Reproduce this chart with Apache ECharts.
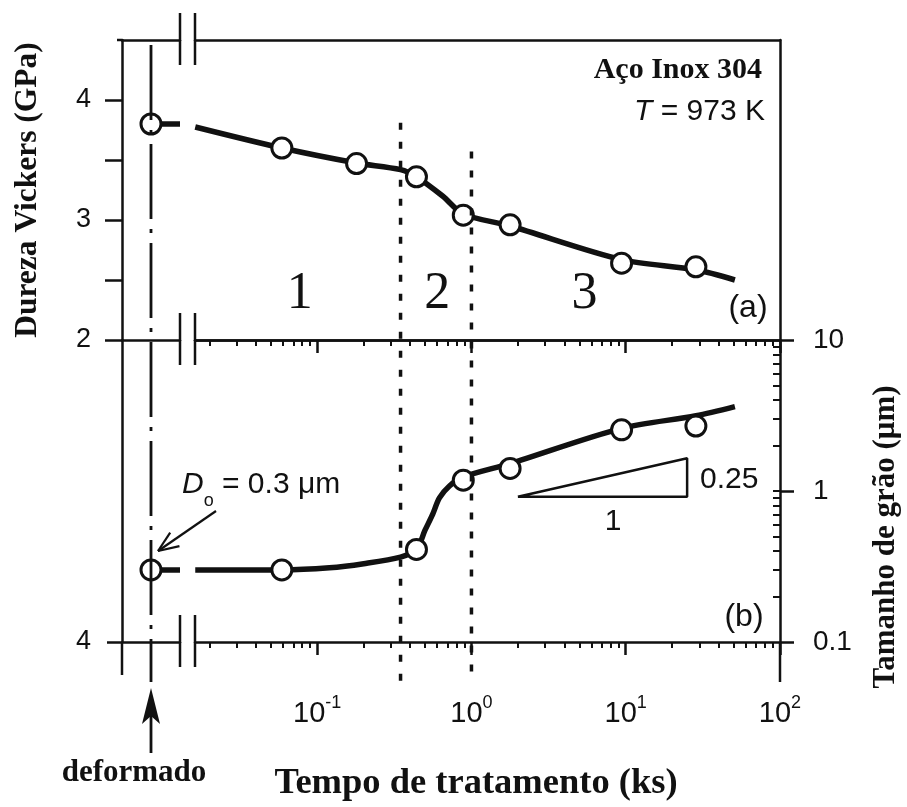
<!DOCTYPE html>
<html><head><meta charset="utf-8">
<script src="https://cdn.jsdelivr.net/npm/echarts@6/dist/echarts.min.js"></script>
<style>html,body{margin:0;padding:0;background:#fff}#c{width:907px;height:807px}</style>
</head><body><div id="c"></div>
<script>
// ---------- data ----------
// (a) Vickers hardness, GPa
const hvTime = [0.059, 0.18, 0.44, 0.885, 1.78, 9.4, 28.5];
const hvValue = [3.60, 3.47, 3.36, 3.04, 2.96, 2.64, 2.61];
const hvDeformed = 3.80;
const hvFitTime = [0.0162, 0.059, 0.18, 0.347, 0.44, 0.65, 0.885, 1.78, 9.4, 28.5, 51];
const hvFitValue = [3.775, 3.60, 3.475, 3.42, 3.36, 3.20, 3.05, 2.95, 2.67, 2.585, 2.50];
// (b) grain size, um
const gsTime = [0.059, 0.44, 0.885, 1.78, 9.4, 28.5];
const gsValue = [0.30, 0.41, 1.18, 1.41, 2.54, 2.69];
const gsDeformed = 0.30;
const gsFitTime = [0.0162, 0.059, 0.12, 0.2, 0.347, 0.44, 0.5, 0.56, 0.62, 0.72, 0.885, 1.78, 9.4, 28.5, 51];
const gsFitValue = [0.30, 0.30, 0.31, 0.33, 0.365, 0.41, 0.55, 0.70, 0.90, 1.08, 1.24, 1.52, 2.60, 3.15, 3.62];
// stage boundaries (ks) and where the dotted lines start (GPa)
const stageBounds = [0.347, 1.0];
const stageTopHv = [3.81, 3.57];
const stageLabels = ['1', '2', '3'];
// slope triangle (ks, um)
const triTime = [2, 25, 25, 2];
const triSize = [0.917, 0.917, 1.647, 0.917];
// axes
const timeMin = 0.01614, timeMax = 100;
const timeMajorTicks = [0.1, 1, 10, 100];
const timeMinorTicks = [0.02, 0.03, 0.04, 0.05, 0.06, 0.07, 0.08, 0.09,
  0.2, 0.3, 0.4, 0.5, 0.6, 0.7, 0.8, 0.9, 2, 3, 4, 5, 6, 7, 8, 9,
  20, 30, 40, 50, 60, 70, 80, 90];
const sizeMajorTicks = [0.1, 1, 10];
const sizeMinorTicks = [0.2, 0.3, 0.4, 0.5, 0.6, 0.7, 0.8, 0.9, 1, 2, 3, 4, 5, 6, 7, 8, 9];
const hvTicks = [2, 2.5, 3, 3.5, 4];
const hvTickLabels = [2, 3, 4];

// ---------- styling ----------
const INK = '#111';
const SANS = '"Liberation Sans", Arial, sans-serif';
const SERIF = '"Liberation Serif", "Times New Roman", serif';
const AX = 2.5;

const chart = echarts.init(document.getElementById('c'), null, {renderer: 'canvas'});

function plain(extra) {
  return Object.assign({
    axisLine: {show: true, onZero: false, lineStyle: {color: INK, width: AX}},
    axisTick: {show: false}, axisLabel: {show: false}, splitLine: {show: false}
  }, extra);
}
const xLabelRich = {
  b: {fontFamily: SANS, fontSize: 29, color: INK, lineHeight: 34, verticalAlign: 'bottom'},
  s: {fontFamily: SANS, fontSize: 18, color: INK, lineHeight: 18, verticalAlign: 'top'}
};

const lineStyleFit = {color: INK, width: 5.5};
const circle = {symbol: 'circle', symbolSize: 20,
  itemStyle: {color: '#fff', borderColor: INK, borderWidth: 3, opacity: 1}, z: 6};

const gridBase = {outerBoundsMode: 'none', containLabel: false, show: false};

chart.setOption({
  animation: false,
  backgroundColor: '#fff',
  grid: [
    Object.assign({left: 122, top: 40, width: 58, height: 300}, gridBase),
    Object.assign({left: 195, top: 40, width: 585, height: 300}, gridBase),
    Object.assign({left: 122, top: 340, width: 58, height: 302}, gridBase),
    Object.assign({left: 195, top: 340, width: 585, height: 302}, gridBase)
  ],
  xAxis: [
    plain({type: 'value', gridIndex: 0, min: 0, max: 1, position: 'bottom'}),
    plain({type: 'value', gridIndex: 0, min: 0, max: 1, position: 'top'}),
    plain({type: 'log', gridIndex: 1, min: timeMin, max: timeMax, position: 'bottom'}),
    plain({type: 'log', gridIndex: 1, min: timeMin, max: timeMax, position: 'top'}),
    plain({type: 'value', gridIndex: 2, min: 0, max: 1, position: 'bottom'}),
    plain({type: 'log', gridIndex: 3, min: timeMin, max: timeMax, position: 'bottom',
      axisTick: {show: true, customValues: timeMajorTicks, length: 13, lineStyle: {color: INK, width: AX}},
      axisLabel: {show: true, customValues: timeMajorTicks, margin: 52, showMinLabel: true, showMaxLabel: true,
        formatter: v => '{b|10}{s|' + Math.round(Math.log10(v)) + '}', rich: xLabelRich}}),
    plain({type: 'log', gridIndex: 3, min: timeMin, max: timeMax, position: 'bottom',
      axisLine: {show: false},
      axisTick: {show: true, customValues: timeMinorTicks, length: 6, lineStyle: {color: INK, width: 2}}}),
    plain({type: 'log', gridIndex: 3, min: timeMin, max: timeMax, position: 'top',
      axisTick: {show: true, inside: true, customValues: timeMajorTicks, length: 13, lineStyle: {color: INK, width: AX}}}),
    plain({type: 'log', gridIndex: 3, min: timeMin, max: timeMax, position: 'top',
      axisLine: {show: false},
      axisTick: {show: true, inside: true, customValues: timeMinorTicks, length: 6, lineStyle: {color: INK, width: 2}}})
  ],
  yAxis: [
    plain({type: 'value', gridIndex: 0, min: 2, max: 4.5, position: 'left',
      axisTick: {show: true, customValues: hvTicks, length: 17, lineStyle: {color: INK, width: AX}},
      axisLabel: {show: true, customValues: hvTickLabels, margin: 31, showMinLabel: true,
        fontFamily: SANS, fontSize: 27, color: INK}}),
    plain({type: 'value', gridIndex: 1, min: 2, max: 4.5, position: 'right'}),
    plain({type: 'log', gridIndex: 2, min: 0.1, max: 10, position: 'left',
      axisTick: {show: true, customValues: [0.1], length: 15, lineStyle: {color: INK, width: AX}},
      axisLabel: {show: true, customValues: [0.1], margin: 31, showMinLabel: true, formatter: () => '4',
        fontFamily: SANS, fontSize: 27, color: INK}}),
    plain({type: 'log', gridIndex: 3, min: 0.1, max: 10, position: 'right',
      axisTick: {show: true, customValues: sizeMajorTicks, length: 14, lineStyle: {color: INK, width: AX}},
      axisLabel: {show: true, customValues: sizeMajorTicks, margin: 33, showMinLabel: true, showMaxLabel: true,
        formatter: v => String(+(+v).toPrecision(3)), fontFamily: SANS, fontSize: 28, color: INK}}),
    plain({type: 'log', gridIndex: 3, min: 0.1, max: 10, position: 'right',
      axisLine: {show: false},
      axisTick: {show: true, inside: true, customValues: sizeMinorTicks, length: 7, lineStyle: {color: INK, width: 2}}})
  ],
  series: [
    {type: 'line', xAxisIndex: 0, yAxisIndex: 0, data: [[0.5, hvDeformed], [1, hvDeformed]],
      symbol: 'none', lineStyle: lineStyleFit, z: 3},
    Object.assign({type: 'scatter', xAxisIndex: 0, yAxisIndex: 0, data: [[0.5, hvDeformed]]}, circle),
    {type: 'line', xAxisIndex: 2, yAxisIndex: 1, smooth: 0.3, symbol: 'none', lineStyle: lineStyleFit, z: 3,
      data: hvFitTime.map((t, i) => [t, hvFitValue[i]])},
    Object.assign({type: 'scatter', xAxisIndex: 2, yAxisIndex: 1,
      data: hvTime.map((t, i) => [t, hvValue[i]])}, circle),
    {type: 'line', xAxisIndex: 4, yAxisIndex: 2, data: [[0.5, gsDeformed], [1, gsDeformed]],
      symbol: 'none', lineStyle: lineStyleFit, z: 3},
    Object.assign({type: 'scatter', xAxisIndex: 4, yAxisIndex: 2, data: [[0.5, gsDeformed]]}, circle),
    {type: 'line', xAxisIndex: 5, yAxisIndex: 3, smooth: 0.3, symbol: 'none', lineStyle: lineStyleFit, z: 3,
      data: gsFitTime.map((t, i) => [t, gsFitValue[i]])},
    Object.assign({type: 'scatter', xAxisIndex: 5, yAxisIndex: 3,
      data: gsTime.map((t, i) => [t, gsValue[i]])}, circle),
    {type: 'line', xAxisIndex: 5, yAxisIndex: 3, symbol: 'none', lineStyle: {color: INK, width: 2.5}, z: 2,
      data: triTime.map((t, i) => [t, triSize[i]])}
  ]
});

// ---------- decorations positioned through the axes ----------
const px = (key, idx, v) => chart.convertToPixel({[key]: idx}, v);
const xDef = px('xAxisIndex', 0, 0.5);
const yTop = px('yAxisIndex', 0, 4.5), yMid = px('yAxisIndex', 0, 2), yBot = px('yAxisIndex', 2, 0.1);
const xLeft = px('xAxisIndex', 0, 0), xBreakL = px('xAxisIndex', 0, 1);
const xBreakR = px('xAxisIndex', 2, timeMin), xRight = px('xAxisIndex', 2, timeMax);
const below = yBot + 40;

const g = [];
function seg(x1, y1, x2, y2, w, dash) {
  g.push({type: 'line', silent: true, z: 10, shape: {x1, y1, x2, y2},
    style: {stroke: INK, lineWidth: w, lineDash: dash || null, lineCap: 'butt'}});
}
function txt(text, x, y, font, align) {
  g.push({type: 'text', silent: true, z: 10, x, y,
    style: {text, font, fill: INK, textAlign: align || 'center', textVerticalAlign: 'middle'}});
}
// axis breaks
[yTop, yMid, yBot].forEach(y => { seg(xBreakL, y - 27, xBreakL, y + 25, AX); seg(xBreakR, y - 27, xBreakR, y + 25, AX); });
// axis extensions below the frame
seg(xLeft, yBot, xLeft, yBot + 33, AX);
seg(xRight, yBot, xRight, yBot + 40, AX);
seg(xLeft - 5, yTop, xLeft, yTop, AX);
// dash-dot guide at the deformed state
seg(xDef, yTop + 5, xDef, below, 2.8, [75, 10, 4, 10]);
// dotted stage boundaries
stageBounds.forEach((t, i) => {
  const x = px('xAxisIndex', 2, t);
  seg(x, px('yAxisIndex', 1, stageTopHv[i]), x, below, 3.5, [7, 12]);
});
// arrow to "deformado"
seg(xDef, 753, xDef, 700, 2.8);
g.push({type: 'polygon', silent: true, z: 10,
  shape: {points: [[xDef, 688], [xDef - 9, 724], [xDef, 716], [xDef + 9, 724]]}, style: {fill: INK}});
// arrow from D0 label
(function () {
  const tip = [158, 551], tail = [216, 511];
  seg(tail[0], tail[1], tip[0], tip[1], 2.2);
  const a = Math.atan2(tail[1] - tip[1], tail[0] - tip[0]);
  [0.38, -0.38].forEach(d => seg(tip[0], tip[1], tip[0] + 22 * Math.cos(a + d), tip[1] + 22 * Math.sin(a + d), 2.2));
})();

// texts
g.push({type: 'text', silent: true, z: 10, x: 28, y: 190, rotation: Math.PI / 2,
  style: {text: 'Dureza Vickers (GPa)', font: 'bold 31.5px ' + SERIF, fill: INK, textAlign: 'center', textVerticalAlign: 'middle'}});
g.push({type: 'text', silent: true, z: 10, x: 886, y: 537, rotation: Math.PI / 2,
  style: {text: 'Tamanho de grão (μm)', font: 'bold 31px ' + SERIF, fill: INK, textAlign: 'center', textVerticalAlign: 'middle'}});
txt('Tempo de tratamento (ks)', 476, 784, 'bold 36.5px ' + SERIF);
txt('deformado', 134, 773, 'bold 31px ' + SERIF);
txt('Aço Inox 304', 762, 70, 'bold 30px ' + SERIF, 'right');
g.push({type: 'text', silent: true, z: 10, x: 765, y: 112,
  style: {text: '{i|T}{n| = 973 K}', fill: INK, textAlign: 'right', textVerticalAlign: 'middle',
    rich: {i: {fontFamily: SANS, fontSize: 30, fontStyle: 'italic', fill: INK},
           n: {fontFamily: SANS, fontSize: 30, fill: INK}}}});
const stageX = [0.077, 0.6, 5.4];
stageLabels.forEach((s, i) => txt(s, px('xAxisIndex', 2, stageX[i]), px('yAxisIndex', 1, 2.38), '52px ' + SERIF));
txt('(a)', 748, 308, '32px ' + SANS);
txt('(b)', 744, 617, '32px ' + SANS);
g.push({type: 'text', silent: true, z: 10, x: 182, y: 490,
  style: {text: '{d|D}{o|o}{n| = 0.3 μm}', fill: INK, textAlign: 'left', textVerticalAlign: 'middle',
    rich: {d: {fontFamily: SANS, fontSize: 30, fontStyle: 'italic', lineHeight: 40, verticalAlign: 'top', fill: INK},
           o: {fontFamily: SANS, fontSize: 18, lineHeight: 18, verticalAlign: 'bottom', fill: INK},
           n: {fontFamily: SANS, fontSize: 30, lineHeight: 40, verticalAlign: 'top', fill: INK}}}});
txt('0.25', 700, 480, '30px ' + SANS, 'left');
txt('1', 613, 522, '30px ' + SANS);

chart.setOption({graphic: {elements: g}});
</script>
</body></html>
